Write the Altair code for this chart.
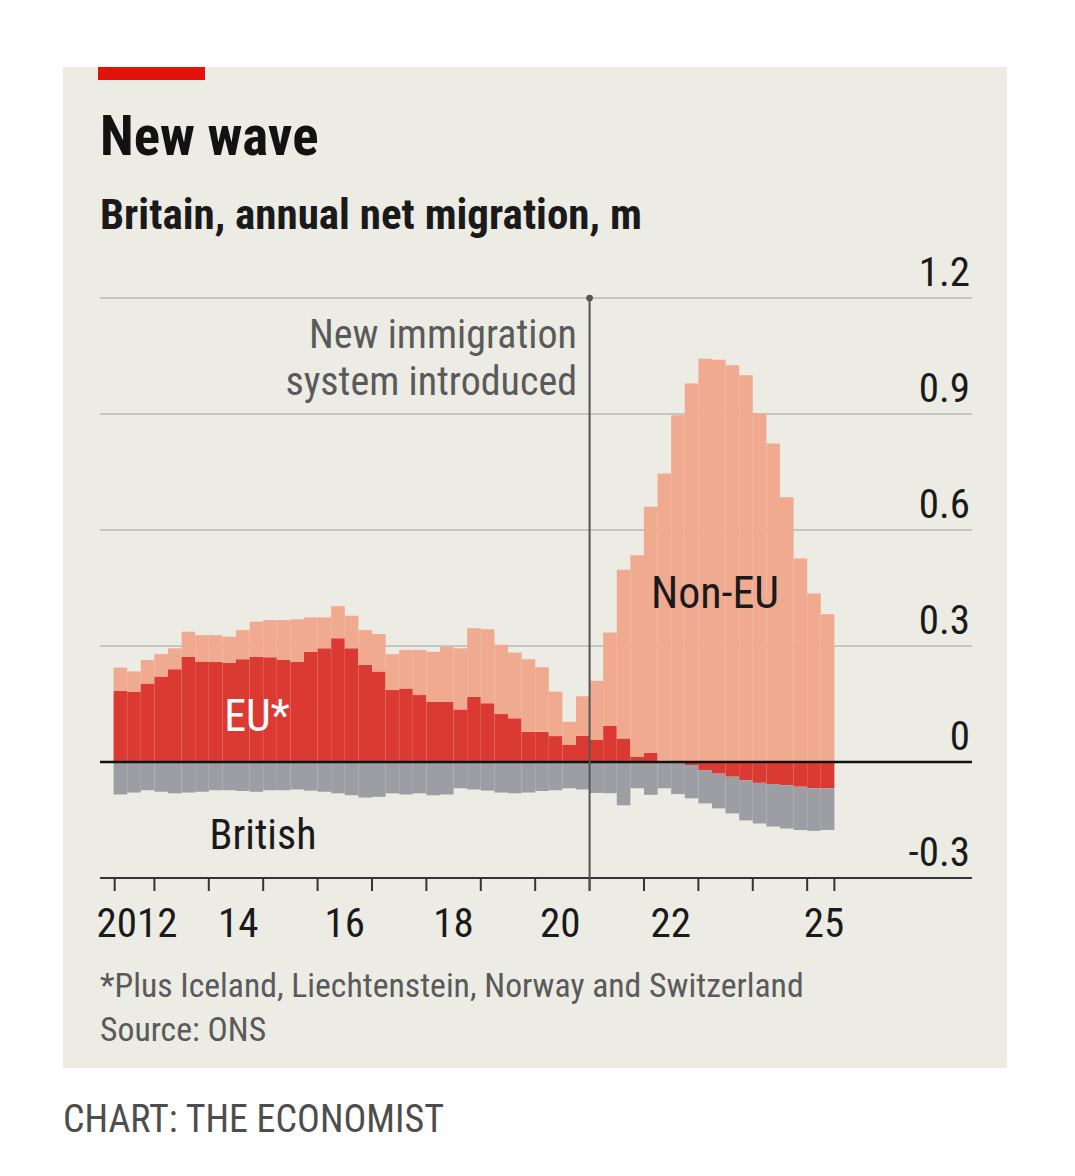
import altair as alt
import pandas as pd

FONT = "Liberation Sans Narrow, Arial Narrow, Roboto Condensed, sans-serif"

# ---- data, quarterly, annual-rolling net migration, m ----
quarter_start = [2012.25 + 0.25 * i for i in range(53)]

eu = [0.184, 0.181, 0.203, 0.221, 0.240, 0.272, 0.260, 0.259, 0.257, 0.266,
      0.272, 0.271, 0.264, 0.259, 0.285, 0.294, 0.320, 0.294, 0.251, 0.234,
      0.186, 0.190, 0.173, 0.156, 0.156, 0.136, 0.169, 0.152, 0.124, 0.113,
      0.078, 0.078, 0.067, 0.044, 0.068, 0.058, 0.093, 0.061, 0.014, 0.024,
      0.003, -0.002, -0.008, -0.021, -0.030, -0.038, -0.047, -0.054, -0.057, -0.060,
      -0.064, -0.068, -0.068]

non_eu = [0.060, 0.053, 0.061, 0.058, 0.054, 0.065, 0.068, 0.069, 0.067, 0.075,
          0.091, 0.096, 0.103, 0.110, 0.089, 0.080, 0.083, 0.084, 0.090, 0.097,
          0.093, 0.100, 0.117, 0.129, 0.142, 0.158, 0.177, 0.191, 0.179, 0.170,
          0.188, 0.167, 0.115, 0.060, 0.102, 0.152, 0.242, 0.436, 0.521, 0.636,
          0.743, 0.897, 0.979, 1.043, 1.040, 1.026, 1.000, 0.902, 0.824, 0.685,
          0.526, 0.436, 0.382]

british = [-0.084, -0.079, -0.073, -0.077, -0.081, -0.079, -0.077, -0.073, -0.073, -0.075,
           -0.077, -0.073, -0.073, -0.071, -0.074, -0.077, -0.081, -0.086, -0.092, -0.090,
           -0.081, -0.084, -0.081, -0.086, -0.084, -0.068, -0.071, -0.074, -0.079, -0.081,
           -0.079, -0.075, -0.073, -0.068, -0.071, -0.080, -0.081, -0.112, -0.068, -0.085,
           -0.068, -0.081, -0.086, -0.086, -0.090, -0.095, -0.104, -0.105, -0.110, -0.112,
           -0.112, -0.110, -0.108]

series_names = ["EU", "Non-EU", "British"]
series_colors = ["#DB3A33", "#F0AA90", "#9C9EA3"]

y_ticks = [-0.3, 0, 0.3, 0.6, 0.9, 1.2]
y_tick_labels = ["-0.3", "0", "0.3", "0.6", "0.9", "1.2"]
grid_values = [0.3, 0.6, 0.9, 1.2]
baseline_value = [-0.3]
zero_value = [0]
x_tick_marks = [2012.27, 2013, 2014, 2015, 2016, 2017, 2018, 2019, 2020, 2021,
                2022, 2023, 2024, 2025, 2025.5]
x_label_pos = [2012.68, 2014.54, 2016.5, 2018.5, 2020.46, 2022.49, 2025.31]
x_label_text = ["2012", "14", "16", "18", "20", "22", "25"]
policy_year = [2021.0]

# ---- build long table ----
rows = []
for i, q in enumerate(quarter_start):
    for order, (name, vals) in enumerate(zip(series_names, [eu, non_eu, british])):
        rows.append({"start": q, "end": q + 0.25, "series": name,
                     "value": vals[i], "order": order})
df = pd.DataFrame(rows)

W, H = 872, 580
xscale = alt.Scale(domain=[2012, 2028.03], nice=False, zero=False)
yscale = alt.Scale(domain=[-0.3, 1.2], nice=False, zero=False)

one = pd.DataFrame({"a": [0]})

panel = alt.Chart(one).mark_rect(color="#ECEBE4").encode(
    x=alt.value(-37), x2=alt.value(907), y=alt.value(-231), y2=alt.value(770))

redbar = alt.Chart(one).mark_rect(color="#E3120B").encode(
    x=alt.value(-2), x2=alt.value(105), y=alt.value(-231), y2=alt.value(-218))

grid = alt.Chart(pd.DataFrame({"g": grid_values})).mark_rule(
    color="#B9B9B6", strokeWidth=1.6).encode(
    y=alt.Y("g:Q", scale=yscale, axis=None))

bars = alt.Chart(df).transform_stack(
    stack="value", groupby=["start"], as_=["y0", "y1"],
    sort=[alt.SortField("order", order="ascending")], offset="zero"
).mark_rect(strokeWidth=0).encode(
    x=alt.X("start:Q", scale=xscale, axis=None),
    x2="end:Q",
    y=alt.Y("y0:Q", scale=yscale, axis=None),
    y2="y1:Q",
    color=alt.Color("series:N", scale=alt.Scale(domain=series_names,
                                                range=series_colors), legend=None),
)

zero = alt.Chart(pd.DataFrame({"z": zero_value})).mark_rule(
    color="#111111", strokeWidth=2.5).encode(
    y=alt.Y("z:Q", scale=yscale, axis=None))

base = alt.Chart(pd.DataFrame({"b": baseline_value})).mark_rule(
    color="#333333", strokeWidth=2).encode(
    y=alt.Y("b:Q", scale=yscale, axis=None))

ticks = alt.Chart(pd.DataFrame({"t": x_tick_marks})).mark_rule(
    color="#333333", strokeWidth=2).encode(
    x=alt.X("t:Q", scale=xscale, axis=None),
    y=alt.value(580), y2=alt.value(593))

xlabels = alt.Chart(pd.DataFrame({"p": x_label_pos, "s": x_label_text})).mark_text(
    font=FONT, fontSize=41, color="#1A1A1A", align="center", baseline="alphabetic"
).encode(x=alt.X("p:Q", scale=xscale, axis=None), y=alt.value(639), text="s:N")

ylabels = alt.Chart(pd.DataFrame({"v": y_ticks, "s": y_tick_labels})).mark_text(
    font=FONT, fontSize=41, color="#1A1A1A", align="right", baseline="alphabetic", dy=-12
).encode(y=alt.Y("v:Q", scale=yscale, axis=None), x=alt.value(870), text="s:N")

vline = alt.Chart(pd.DataFrame({"yr": policy_year})).mark_rule(
    color="#555555", strokeWidth=2).encode(
    x=alt.X("yr:Q", scale=xscale, axis=None),
    y=alt.value(0), y2=alt.value(593))

vdot = alt.Chart(pd.DataFrame({"yr": policy_year})).mark_point(
    filled=True, color="#555555", size=45, opacity=1).encode(
    x=alt.X("yr:Q", scale=xscale, axis=None), y=alt.value(0))

def txt(text, x, y, size, color="#1A1A1A", weight="normal", align="left", lh=None):
    kw = dict(text=text, font=FONT, fontSize=size, color=color, fontWeight=weight,
              align=align, baseline="alphabetic")
    if lh:
        kw["lineHeight"] = lh
    return alt.Chart(one).mark_text(**kw).encode(x=alt.value(x), y=alt.value(y))

title = txt("New wave", 0, -143, 55, color="#121212", weight="bold")
subtitle = txt("Britain, annual net migration, m", 0, -69, 43, color="#1A1A1A", weight="bold")
annot = txt(["New immigration", "system introduced"], 477, 50, 40,
            color="#5A5A5A", align="right", lh=47)
lab_noneu = txt("Non-EU", 615, 310, 44, color="#1A1A1A", align="center")
lab_eu = txt("EU*", 157, 433, 44, color="#FFFFFF", align="center")
lab_brit = txt("British", 163, 551, 42, color="#1A1A1A", align="center")
foot1 = txt("*Plus Iceland, Liechtenstein, Norway and Switzerland", 0, 699, 33.7, color="#5A5A5A")
foot2 = txt("Source: ONS", 0, 743, 33.7, color="#5A5A5A")
credit = txt("CHART: THE ECONOMIST", -37, 834, 38, color="#4D4D4D")

chart = alt.layer(
    panel, redbar, grid, bars, zero, base, ticks, vline, vdot, xlabels, ylabels,
    title, subtitle, annot, lab_noneu, lab_eu, lab_brit, foot1, foot2, credit
).properties(
    width=W, height=H,
    autosize=alt.AutoSizeParams(type="none"),
    padding={"left": 92, "right": 95, "top": 290, "bottom": 280},
    background="white",
).configure_view(stroke=None)

chart.save("out.html", embed_options={"renderer": "svg", "actions": False})
